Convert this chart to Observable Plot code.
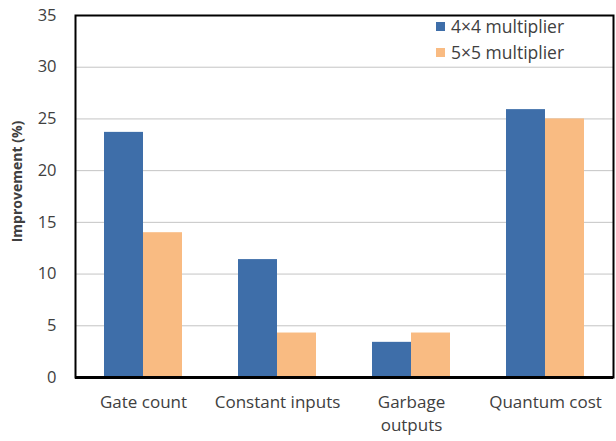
<!DOCTYPE html>
<html>
<head>
<meta charset="utf-8">
<script src="https://cdn.jsdelivr.net/npm/d3@7"></script>
<script src="https://cdn.jsdelivr.net/npm/@observablehq/plot@0.6"></script>
<style>
  body { margin: 0; background: white; }
  #wrap { position: relative; width: 616px; height: 441px; font-family: "Open Sans", sans-serif; }
  #legend { position: absolute; left: 436px; top: 13px; font-size: 17.5px; color: #404040; line-height: 26px; }
  #legend .row { display: flex; align-items: center; }
  #legend .sw { width: 9px; height: 9px; margin-right: 6px; }
</style>
</head>
<body>
<div id="wrap"><div id="legend"></div></div>
<script>
const categories = ["Gate count", "Constant inputs", "Garbage outputs", "Quantum cost"];
const categoryLabels = ["Gate count", "Constant inputs", "Garbage\noutputs", "Quantum cost"];
const seriesNames = ["4×4 multiplier", "5×5 multiplier"];
const values4x4 = [23.7, 11.4, 3.4, 25.9];
const values5x5 = [14.0, 4.3, 4.3, 25.0];
const seriesColors = ["#3e6ea9", "#f9bb82"];
const yTicks = [0, 5, 10, 15, 20, 25, 30, 35];

const rows4 = categories.map((c, i) => ({category: c, series: seriesNames[0], value: values4x4[i]}));
const rows5 = categories.map((c, i) => ({category: c, series: seriesNames[1], value: values5x5[i]}));

const W = 616, H = 441, mL = 75, mR = 3, mT = 15, mB = 64;
const padIn = 0.42, padOut = 0.21;
const step = (W - mL - mR) / (categories.length - padIn + 2 * padOut);
const half = step * (1 - padIn) / 2;

const chart = Plot.plot({
  width: W, height: H,
  marginLeft: mL, marginRight: mR, marginTop: mT, marginBottom: mB,
  style: {fontFamily: "Open Sans, sans-serif", fontSize: "16px", color: "#404040", background: "white"},
  x: {domain: categories, paddingInner: padIn, paddingOuter: padOut, label: null, axis: null},
  y: {domain: [0, 35], label: null, axis: null},
  marks: [
    Plot.gridY(yTicks, {stroke: "#c4c4c4", strokeOpacity: 1, strokeWidth: 1}),
    Plot.barY(rows4, {x: "category", y: "value", fill: seriesColors[0], insetRight: half}),
    Plot.barY(rows5, {x: "category", y: "value", fill: seriesColors[1], insetLeft: half}),
    Plot.frame({stroke: "black", strokeWidth: 2}),
    Plot.ruleY([0], {stroke: "black", strokeWidth: 3}),
    Plot.axisY(yTicks, {tickSize: 0, tickPadding: 19, label: null, fontSize: 16.5, fill: "#404040"}),
    Plot.axisX({tickSize: 0, tickPadding: 14, label: null, fontSize: 17, fill: "#404040", lineHeight: 1.35,
      tickFormat: d => categoryLabels[categories.indexOf(d)]}),
    Plot.text(["Improvement (%)"], {frameAnchor: "left", textAnchor: "middle", rotate: -90, dx: -58, dy: -15,
      fontWeight: "bold", fontSize: 14, fill: "#404040"})
  ]
});
document.getElementById("wrap").prepend(chart);

const legend = document.getElementById("legend");
seriesNames.forEach((s, i) => {
  const row = document.createElement("div");
  row.className = "row";
  const sw = document.createElement("span");
  sw.className = "sw";
  sw.style.background = seriesColors[i];
  const t = document.createElement("span");
  t.textContent = s;
  row.append(sw, t);
  legend.append(row);
});
</script>
</body>
</html>
